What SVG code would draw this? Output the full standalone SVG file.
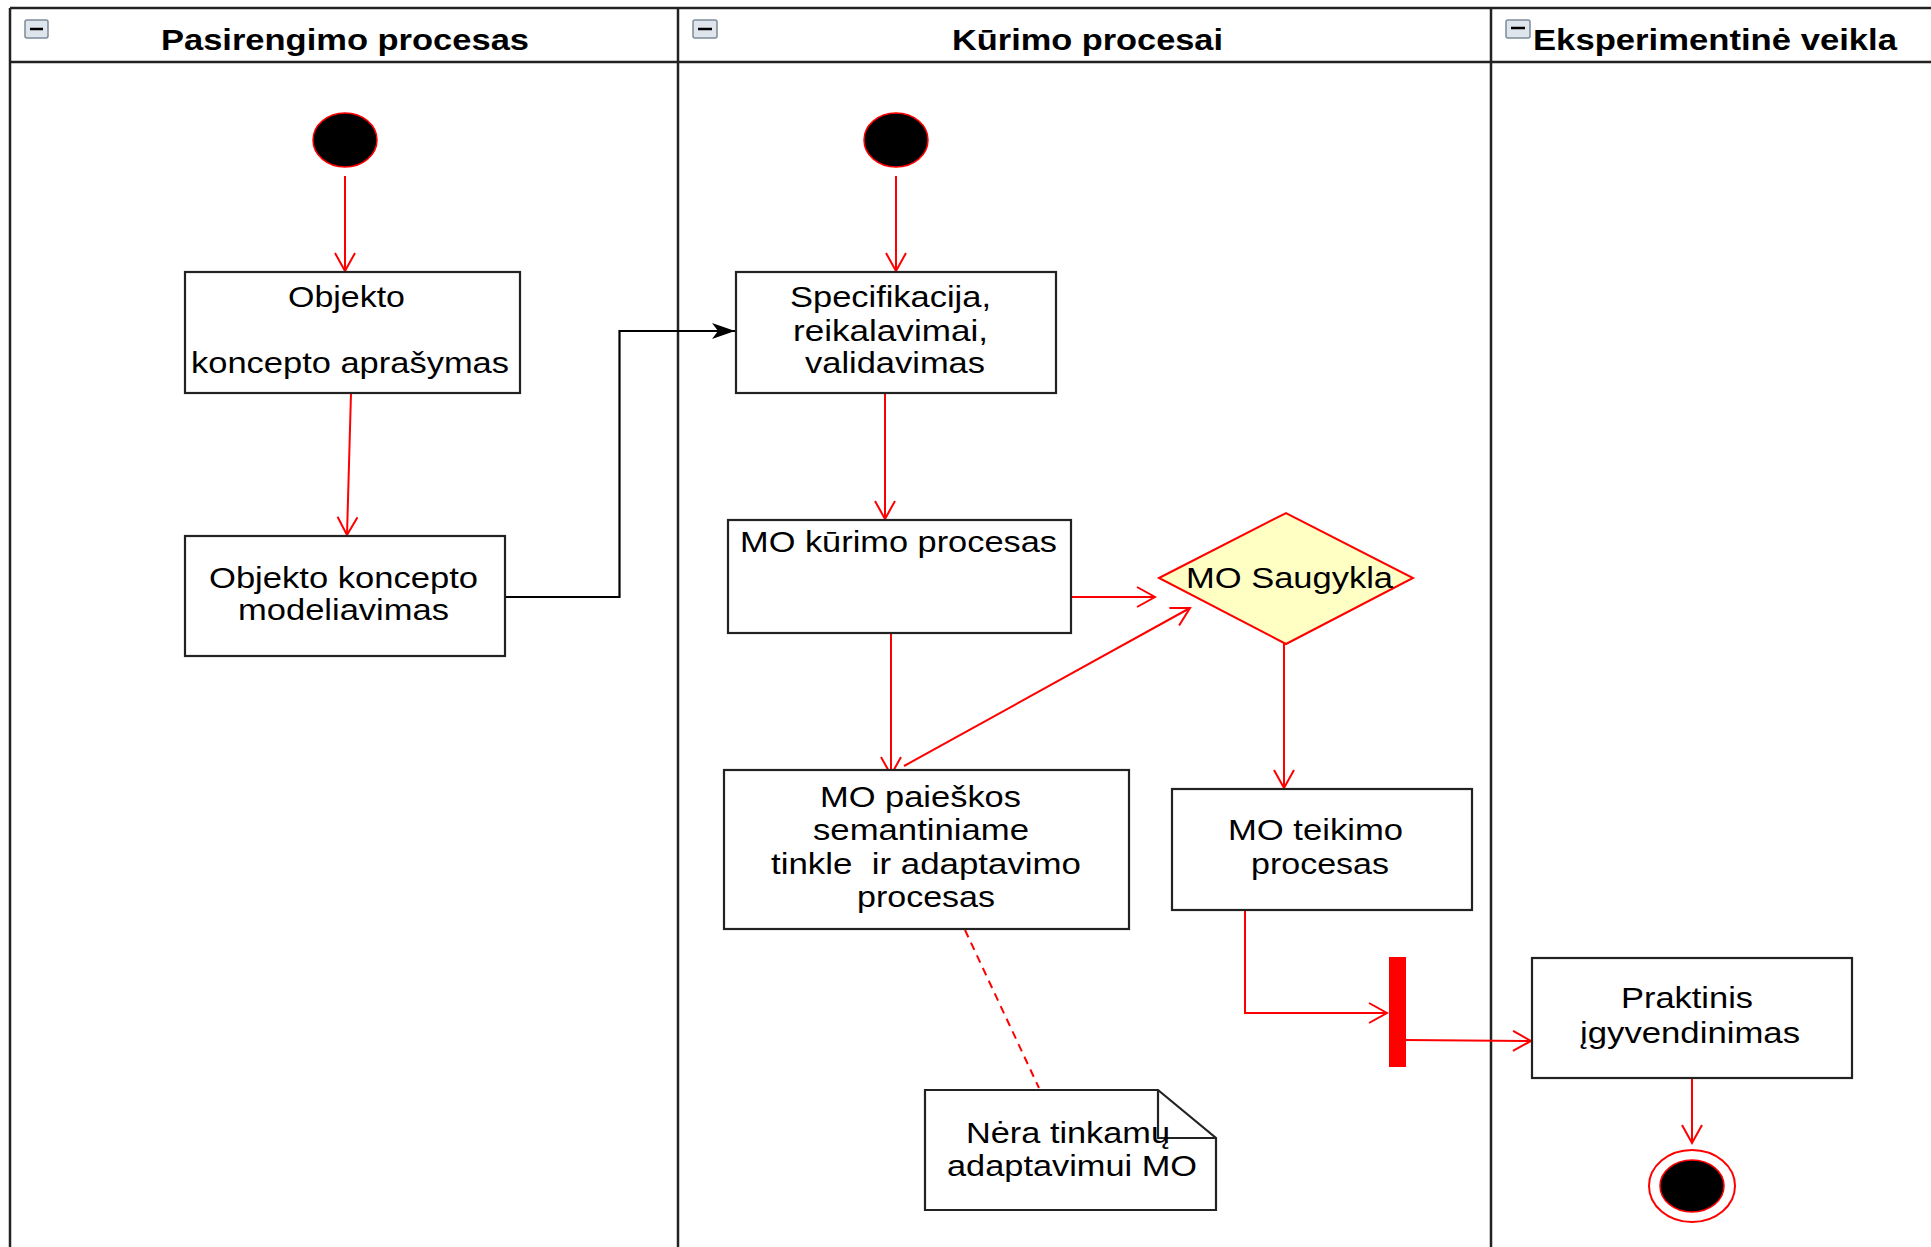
<svg xmlns="http://www.w3.org/2000/svg" width="1931" height="1247" viewBox="0 0 1931 1247">
<style>
  .lane { fill: none; stroke: #222; stroke-width: 2.5; }
  .box { fill: #fff; stroke: #222; stroke-width: 2.2; }
  .t { font-family: "Liberation Sans", Arial, sans-serif; font-size: 29px; fill: #000; }
  .h { font-family: "Liberation Sans", Arial, sans-serif; font-size: 29px; font-weight: bold; fill: #000; }
  .red { fill: none; stroke: #ff0000; stroke-width: 2; }
  .icon { fill: #dfe5ec; stroke: #7d8a98; stroke-width: 1.5; }
</style>
<defs>
  <marker id="open" viewBox="0 0 22 22" markerWidth="22" markerHeight="22" refX="20" refY="11" orient="auto" markerUnits="userSpaceOnUse">
    <path d="M2,1 L20,11 L2,21" fill="none" stroke="#ff0000" stroke-width="2"/>
  </marker>
  <marker id="solid" viewBox="0 0 24 18" markerWidth="24" markerHeight="18" refX="23" refY="9" orient="auto" markerUnits="userSpaceOnUse">
    <path d="M0,1 L23,9 L0,17 L6,9 Z" fill="#000"/>
  </marker>
</defs>
<rect width="1931" height="1247" fill="#fff"/>

<g id="swimlanes">
  <line class="lane" x1="10" y1="8" x2="1931" y2="8"/>
  <line class="lane" x1="10" y1="62" x2="1931" y2="62"/>
  <line class="lane" x1="10" y1="8" x2="10" y2="1247"/>
  <line class="lane" x1="678" y1="8" x2="678" y2="1247"/>
  <line class="lane" x1="1491" y1="8" x2="1491" y2="1247"/>
  <g id="lane1-header">
    <rect class="icon" x="25" y="20" width="23" height="18" rx="2"/>
    <line x1="30" y1="29" x2="43" y2="29" stroke="#000" stroke-width="2.5"/>
    <text class="h" x="161" y="50" textLength="368" lengthAdjust="spacingAndGlyphs">Pasirengimo procesas</text>
  </g>
  <g id="lane2-header">
    <rect class="icon" x="693" y="20" width="24" height="18" rx="2"/>
    <line x1="698" y1="29" x2="712" y2="29" stroke="#000" stroke-width="2.5"/>
    <text class="h" x="952" y="50" textLength="271" lengthAdjust="spacingAndGlyphs">Kūrimo procesai</text>
  </g>
  <g id="lane3-header">
    <rect class="icon" x="1506" y="20" width="24" height="18" rx="2"/>
    <line x1="1511" y1="28" x2="1525" y2="28" stroke="#000" stroke-width="2.5"/>
    <text class="h" x="1533" y="50" textLength="364" lengthAdjust="spacingAndGlyphs">Eksperimentinė veikla</text>
  </g>
</g>

<g id="connectors">
  <line class="red" x1="345" y1="176" x2="345" y2="271" marker-end="url(#open)"/>
  <line class="red" x1="351" y1="393" x2="347" y2="535" marker-end="url(#open)"/>
  <polyline points="505,597 619.5,597 619.5,331 735,331" fill="none" stroke="#000" stroke-width="2.2" marker-end="url(#solid)"/>
  <line class="red" x1="896" y1="176" x2="896" y2="271" marker-end="url(#open)"/>
  <line class="red" x1="885" y1="393" x2="885" y2="519" marker-end="url(#open)"/>
  <line class="red" x1="1064" y1="597" x2="1155" y2="597" marker-end="url(#open)"/>
  <line class="red" x1="891" y1="633" x2="891" y2="775" marker-end="url(#open)"/>
  <line class="red" x1="904" y1="766" x2="1190" y2="608" marker-end="url(#open)"/>
  <line class="red" x1="1284" y1="644" x2="1284" y2="788" marker-end="url(#open)"/>
  <polyline class="red" points="1245,910 1245,1013 1387,1013" marker-end="url(#open)"/>
  <line class="red" x1="1406" y1="1040" x2="1531" y2="1041" marker-end="url(#open)"/>
  <line class="red" x1="1692" y1="1078" x2="1692" y2="1143" marker-end="url(#open)"/>
  <line x1="965" y1="930" x2="1039" y2="1088" stroke="#ff0000" stroke-width="2" stroke-dasharray="8,6"/>
</g>

<g id="start1">
  <ellipse cx="345" cy="140" rx="32" ry="27" fill="#000" stroke="#ff0000" stroke-width="1.5"/>
</g>
<g id="start2">
  <ellipse cx="896" cy="140" rx="32" ry="27" fill="#000" stroke="#ff0000" stroke-width="1.5"/>
</g>

<g id="objekto-aprasymas">
  <rect class="box" x="185" y="272" width="335" height="121"/>
  <text class="t" x="288" y="307" textLength="117" lengthAdjust="spacingAndGlyphs">Objekto</text>
  <text class="t" x="191" y="373" textLength="318" lengthAdjust="spacingAndGlyphs">koncepto aprašymas</text>
</g>

<g id="objekto-modeliavimas">
  <rect class="box" x="185" y="536" width="320" height="120"/>
  <text class="t" x="209" y="588" textLength="269" lengthAdjust="spacingAndGlyphs">Objekto koncepto</text>
  <text class="t" x="238" y="620" textLength="211" lengthAdjust="spacingAndGlyphs">modeliavimas</text>
</g>

<g id="specifikacija">
  <rect class="box" x="736" y="272" width="320" height="121"/>
  <text class="t" x="790" y="307" textLength="201" lengthAdjust="spacingAndGlyphs">Specifikacija,</text>
  <text class="t" x="793" y="341" textLength="195" lengthAdjust="spacingAndGlyphs">reikalavimai,</text>
  <text class="t" x="805" y="373" textLength="180" lengthAdjust="spacingAndGlyphs">validavimas</text>
</g>

<g id="mo-kurimo">
  <rect class="box" x="728" y="520" width="343" height="113"/>
  <text class="t" x="740" y="552" textLength="317" lengthAdjust="spacingAndGlyphs">MO kūrimo procesas</text>
</g>

<g id="mo-saugykla">
  <polygon points="1159,578 1286,513 1413,578 1286,644" fill="#ffffc4" stroke="#ff0000" stroke-width="2"/>
  <text class="t" x="1186" y="588" textLength="207" lengthAdjust="spacingAndGlyphs">MO Saugykla</text>
</g>

<g id="mo-paieskos">
  <rect class="box" x="724" y="770" width="405" height="159"/>
  <text class="t" x="820" y="807" textLength="201" lengthAdjust="spacingAndGlyphs">MO paieškos</text>
  <text class="t" x="813" y="840" textLength="216" lengthAdjust="spacingAndGlyphs">semantiniame</text>
  <text class="t" x="771" y="874" textLength="310" lengthAdjust="spacingAndGlyphs" xml:space="preserve">tinkle  ir adaptavimo</text>
  <text class="t" x="857" y="907" textLength="138" lengthAdjust="spacingAndGlyphs">procesas</text>
</g>

<g id="mo-teikimo">
  <rect class="box" x="1172" y="789" width="300" height="121"/>
  <text class="t" x="1228" y="840" textLength="175" lengthAdjust="spacingAndGlyphs">MO teikimo</text>
  <text class="t" x="1251" y="874" textLength="138" lengthAdjust="spacingAndGlyphs">procesas</text>
</g>

<g id="note">
  <path d="M925,1090 L1158,1090 L1216,1138 L1216,1210 L925,1210 Z" fill="#fff" stroke="#222" stroke-width="2.2"/>
  <polyline points="1158,1090 1158,1138 1216,1138" fill="none" stroke="#222" stroke-width="2.2"/>
  <text class="t" x="966" y="1143" textLength="204" lengthAdjust="spacingAndGlyphs">Nėra tinkamų</text>
  <text class="t" x="947" y="1176" textLength="250" lengthAdjust="spacingAndGlyphs">adaptavimui MO</text>
</g>

<g id="fork">
  <rect x="1389" y="957" width="17" height="110" fill="#ff0000"/>
</g>

<g id="praktinis">
  <rect class="box" x="1532" y="958" width="320" height="120"/>
  <text class="t" x="1621" y="1008" textLength="132" lengthAdjust="spacingAndGlyphs">Praktinis</text>
  <text class="t" x="1580" y="1043" textLength="220" lengthAdjust="spacingAndGlyphs">įgyvendinimas</text>
</g>

<g id="end">
  <ellipse cx="1692" cy="1186" rx="43" ry="36" fill="#fff" stroke="#ff0000" stroke-width="2"/>
  <ellipse cx="1692" cy="1186" rx="32" ry="26" fill="#000" stroke="#ff0000" stroke-width="1.5"/>
</g>
</svg>
